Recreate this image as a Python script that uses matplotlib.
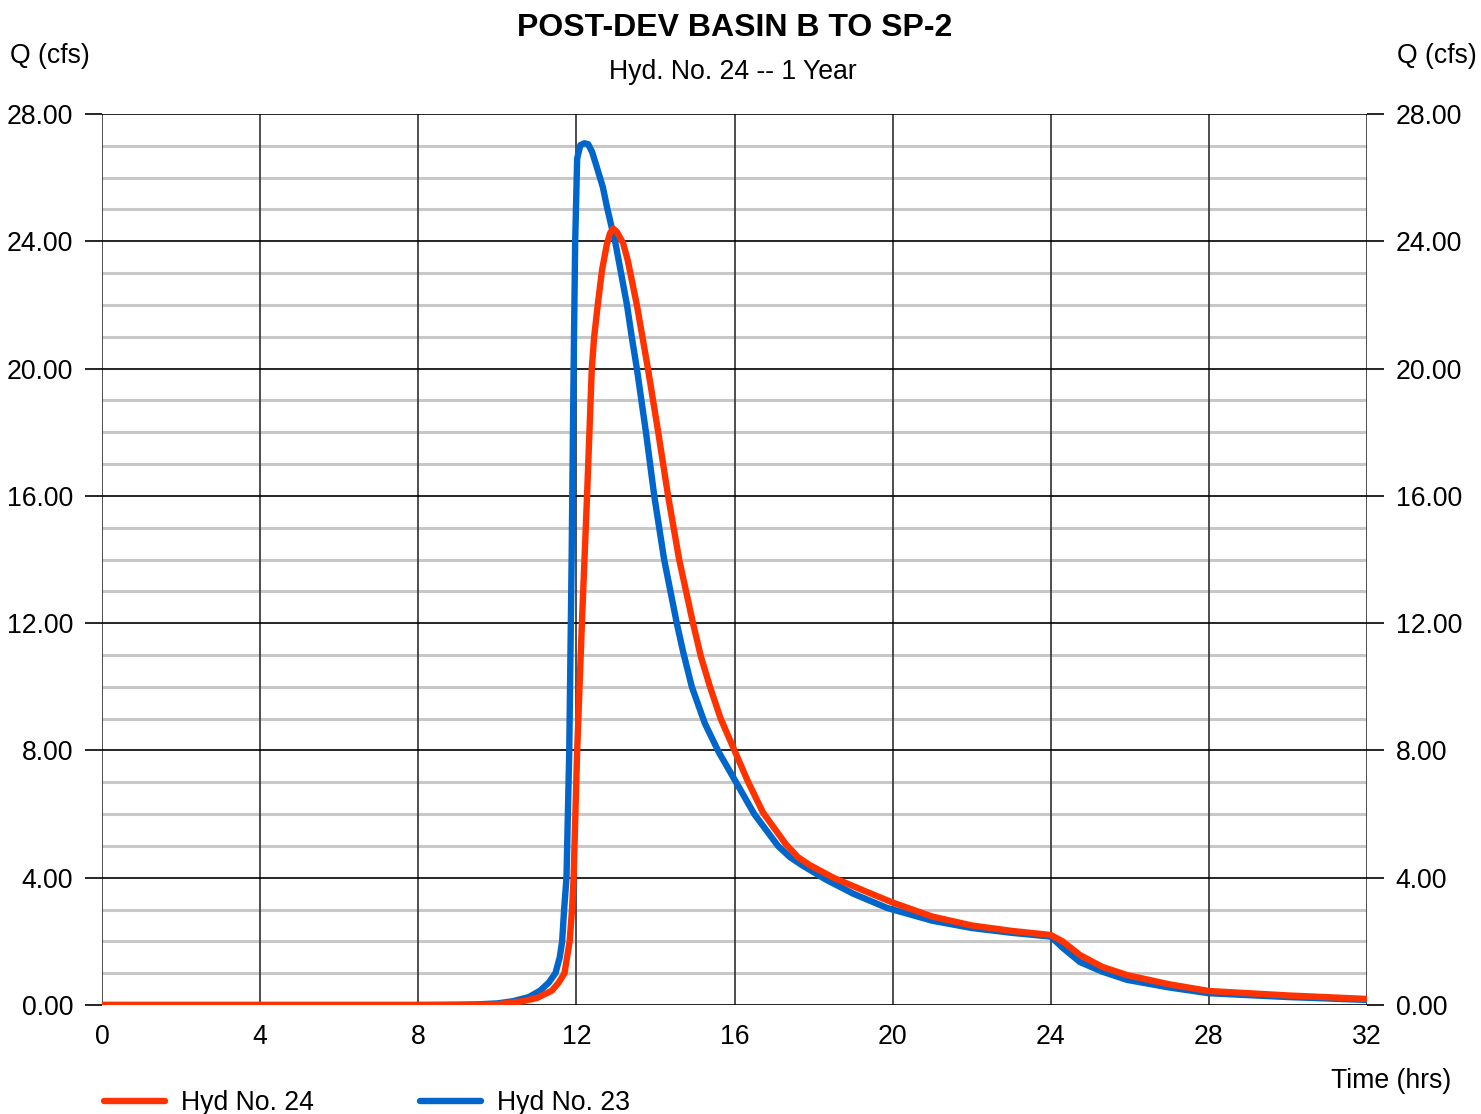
import matplotlib
matplotlib.use("Agg")
import matplotlib.pyplot as plt
from matplotlib.lines import Line2D

plt.rcParams['font.family'] = ['Liberation Sans', 'DejaVu Sans']

title = "POST-DEV BASIN B TO SP-2"
subtitle = "Hyd. No. 24 -- 1 Year"
x_ticks = [0, 4, 8, 12, 16, 20, 24, 28, 32]
y_ticks = [0, 4, 8, 12, 16, 20, 24, 28]

# Hyd No. 23 (blue)
t23 = [0, 8, 9, 9.5, 10, 10.4, 10.8, 11.08, 11.3, 11.47, 11.58, 11.64, 11.69, 11.75,
       11.82, 11.88, 11.93, 11.97, 12.02, 12.1, 12.2, 12.3, 12.4, 12.5, 12.67, 12.77,
       12.9, 12.98, 13.13, 13.28, 13.4, 13.53, 13.76, 13.97, 14.22, 14.54, 14.7, 14.92,
       15.25, 15.6, 16.04, 16.5, 17.1, 17.4, 17.7, 18.3, 19.0, 19.86, 21.0, 22.0, 23.0,
       24.0, 24.3, 24.74, 25.3, 25.93, 27.0, 28.0, 30.0, 32.0]
q23 = [0, 0, 0.01, 0.02, 0.05, 0.12, 0.25, 0.45, 0.7, 1.0, 1.5, 2.0, 3.0, 4.0,
       8.0, 14.0, 20.0, 24.0, 26.6, 27.02, 27.08, 27.05, 26.8, 26.4, 25.7, 25.1,
       24.4, 24.0, 23.0, 22.0, 21.0, 20.0, 18.0, 16.0, 14.0, 12.0, 11.1, 10.0,
       8.85, 7.95, 7.0, 6.0, 5.0, 4.65, 4.4, 3.95, 3.5, 3.05, 2.65, 2.42, 2.27,
       2.15, 1.8, 1.35, 1.05, 0.79, 0.55, 0.37, 0.25, 0.16]

# Hyd No. 24 (red)
t24 = [0, 9.5, 10, 10.65, 11.0, 11.38, 11.55, 11.7, 11.83, 11.89, 11.93, 12.02, 12.14,
       12.27, 12.39, 12.45, 12.55, 12.65, 12.77, 12.85, 12.93, 13.02, 13.18, 13.3,
       13.53, 13.81, 14.07, 14.32, 14.6, 14.95, 15.15, 15.38, 15.65, 16.0, 16.33, 16.72,
       17.3, 17.6, 17.9, 18.5, 19.3, 20.0, 21.0, 22.0, 23.0, 24.0, 24.3, 24.74, 25.3,
       25.93, 27.0, 28.0, 30.0, 32.0]
q24 = [0, 0, 0.02, 0.12, 0.22, 0.45, 0.7, 1.0, 2.0, 3.0, 4.0, 8.0, 12.0,
       16.0, 20.0, 21.0, 22.1, 23.1, 23.9, 24.25, 24.4, 24.3, 23.95, 23.4,
       22.0, 20.0, 18.0, 16.0, 14.0, 12.0, 10.95, 10.0, 9.0, 8.0, 7.05, 6.05,
       5.05, 4.65, 4.4, 4.0, 3.58, 3.22, 2.78, 2.5, 2.33, 2.2, 2.0, 1.57, 1.2,
       0.94, 0.65, 0.44, 0.3, 0.19]

RED = '#ff3300'
BLUE = '#0066cc'
FS = 19.2
LW = 4.6

fig = plt.figure(figsize=(14.81, 11.14), dpi=100)
ax = fig.add_axes([102/1481, 109/1114, 1265/1481, 891/1114])
ax.set_xlim(0, 32)
ax.set_ylim(0, 28)

# minor horizontal grid
for v in range(0, 29):
    if v % 4 != 0:
        ax.axhline(v, color='#c8c8c8', lw=2.2, zorder=1)
# vertical grid
for v in x_ticks:
    ax.axvline(v, color='#404040', lw=1.3, zorder=1.5)
# major horizontal grid
for v in y_ticks:
    ax.axhline(v, color='black', lw=1.2, zorder=1.6)

style = dict(lw=LW, solid_capstyle='round', solid_joinstyle='round')
ax.plot(t23, q23, color=BLUE, zorder=2.5, **style)
ax.plot(t24, q24, color=RED, zorder=3, **style)

for s in ax.spines.values():
    s.set_visible(False)

ax.set_xticks(x_ticks)
ax.set_xticklabels([str(v) for v in x_ticks], fontsize=FS)
ax.tick_params(axis='x', length=0, pad=14)
ax.set_yticks(y_ticks)
ax.set_yticklabels([f"{v:.2f}" for v in y_ticks], fontsize=FS)
ax.tick_params(axis='y', which='both', length=12, width=1.2, color='black',
               left=True, right=True, labelleft=True, labelright=True, pad=8.7)

fig.text(735/1481, 1 - 28/1114, title, ha='center', va='center', fontsize=23, fontweight='bold')
fig.text(733/1481, 1 - 72/1114, subtitle, ha='center', va='center', fontsize=FS)
fig.text(10/1481, 1 - 56/1114, "Q (cfs)", ha='left', va='center', fontsize=FS)
fig.text(1477/1481, 1 - 56/1114, "Q (cfs)", ha='right', va='center', fontsize=FS)
fig.text(1451/1481, 1 - 1081/1114, "Time (hrs)", ha='right', va='center', fontsize=FS)

# legend
fig.add_artist(Line2D([104/1481, 165/1481], [1 - 1101/1114] * 2, color=RED, lw=LW,
                      solid_capstyle='round'))
fig.text(181/1481, 1 - 1103/1114, "Hyd No. 24", ha='left', va='center', fontsize=FS)
fig.add_artist(Line2D([420/1481, 481/1481], [1 - 1101/1114] * 2, color=BLUE, lw=LW,
                      solid_capstyle='round'))
fig.text(497/1481, 1 - 1103/1114, "Hyd No. 23", ha='left', va='center', fontsize=FS)

fig.savefig('out.png', dpi=100)
